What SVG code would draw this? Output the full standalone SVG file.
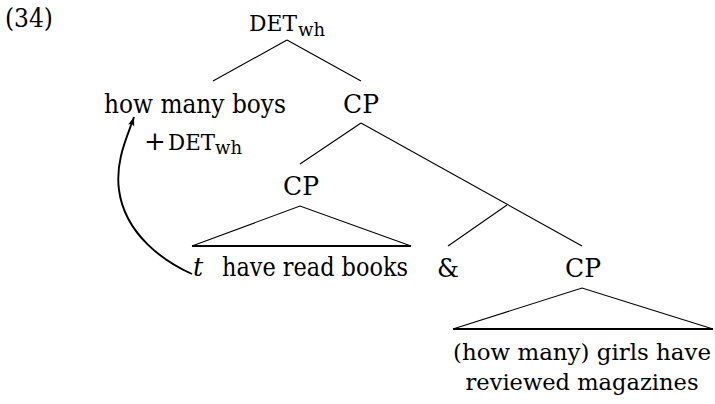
<svg xmlns="http://www.w3.org/2000/svg" width="715" height="404" viewBox="0 0 715 404">
<style>
text{font-family:"DejaVu Serif","Liberation Serif","Times New Roman",serif;fill:#000;font-size:25.5px}
.sc{font-size:22px}
.sub{font-size:18px}
.lf{font-size:23px}
.ln{stroke:#000;stroke-width:1.1;fill:none}
.base{stroke:#000;stroke-width:2.2;fill:none}
.mv{stroke:#000;stroke-width:1.9;fill:none}
</style>
<defs>
<marker id="ah" markerUnits="userSpaceOnUse" markerWidth="10" markerHeight="8" refX="9" refY="4" orient="auto">
<path d="M0,0.8 L9,4 L0,7.2 L2,4 z" fill="#000"/>
</marker>
</defs>
<g id="label"><text x="5" y="27" textLength="48" lengthAdjust="spacingAndGlyphs">(34)</text></g>
<g id="n-detwh"><text class="sc" x="249" y="31" textLength="48" lengthAdjust="spacingAndGlyphs">DET</text><text class="sub" x="298" y="35.5" textLength="27" lengthAdjust="spacingAndGlyphs">wh</text></g>
<g id="n-hmb"><text x="195" y="113" text-anchor="middle" textLength="182" lengthAdjust="spacingAndGlyphs">how many boys</text></g>
<g id="n-feature"><text x="144" y="150" style="font-size:26px">+</text><text class="sc" x="168" y="150" textLength="47" lengthAdjust="spacingAndGlyphs">DET</text><text class="sub" x="215" y="153.5" textLength="27" lengthAdjust="spacingAndGlyphs">wh</text></g>
<g id="n-cp1"><text x="361" y="113" text-anchor="middle" textLength="36" lengthAdjust="spacingAndGlyphs">CP</text></g>
<g id="n-cp2"><text x="301" y="195" text-anchor="middle" textLength="36" lengthAdjust="spacingAndGlyphs">CP</text></g>
<g id="n-t1"><text x="193" y="276" font-style="italic">t</text><text x="222" y="276" textLength="186" lengthAdjust="spacingAndGlyphs">have read books</text></g>
<g id="n-amp"><text x="437" y="277" textLength="22" lengthAdjust="spacingAndGlyphs">&amp;</text></g>
<g id="n-cp3"><text x="583" y="277" text-anchor="middle" textLength="36" lengthAdjust="spacingAndGlyphs">CP</text></g>
<g id="n-t2"><text class="lf" x="582" y="360" text-anchor="middle" textLength="258" lengthAdjust="spacingAndGlyphs">(how many) girls have</text><text class="lf" x="582" y="390" text-anchor="middle" textLength="233" lengthAdjust="spacingAndGlyphs">reviewed magazines</text></g>
<g id="connectors">
<path class="ln" d="M287,40 L213,81 M287,40 L361,81"/>
<path class="ln" d="M361,123 L300,164 M361,123 L582,246"/>
<path class="ln" d="M507,205 L448,246"/>
<path class="ln" d="M192,246 L300,206 L411,246"/>
<path class="base" d="M192,246 L411,246"/>
<path class="ln" d="M453,329 L582,288 L713,329"/>
<path class="base" d="M453,329 L713,329"/>
<path class="mv" d="M192,274 C165,262 125,235 119,190 C115,160 128,135 134,117" marker-end="url(#ah)"/>
</g>
</svg>
